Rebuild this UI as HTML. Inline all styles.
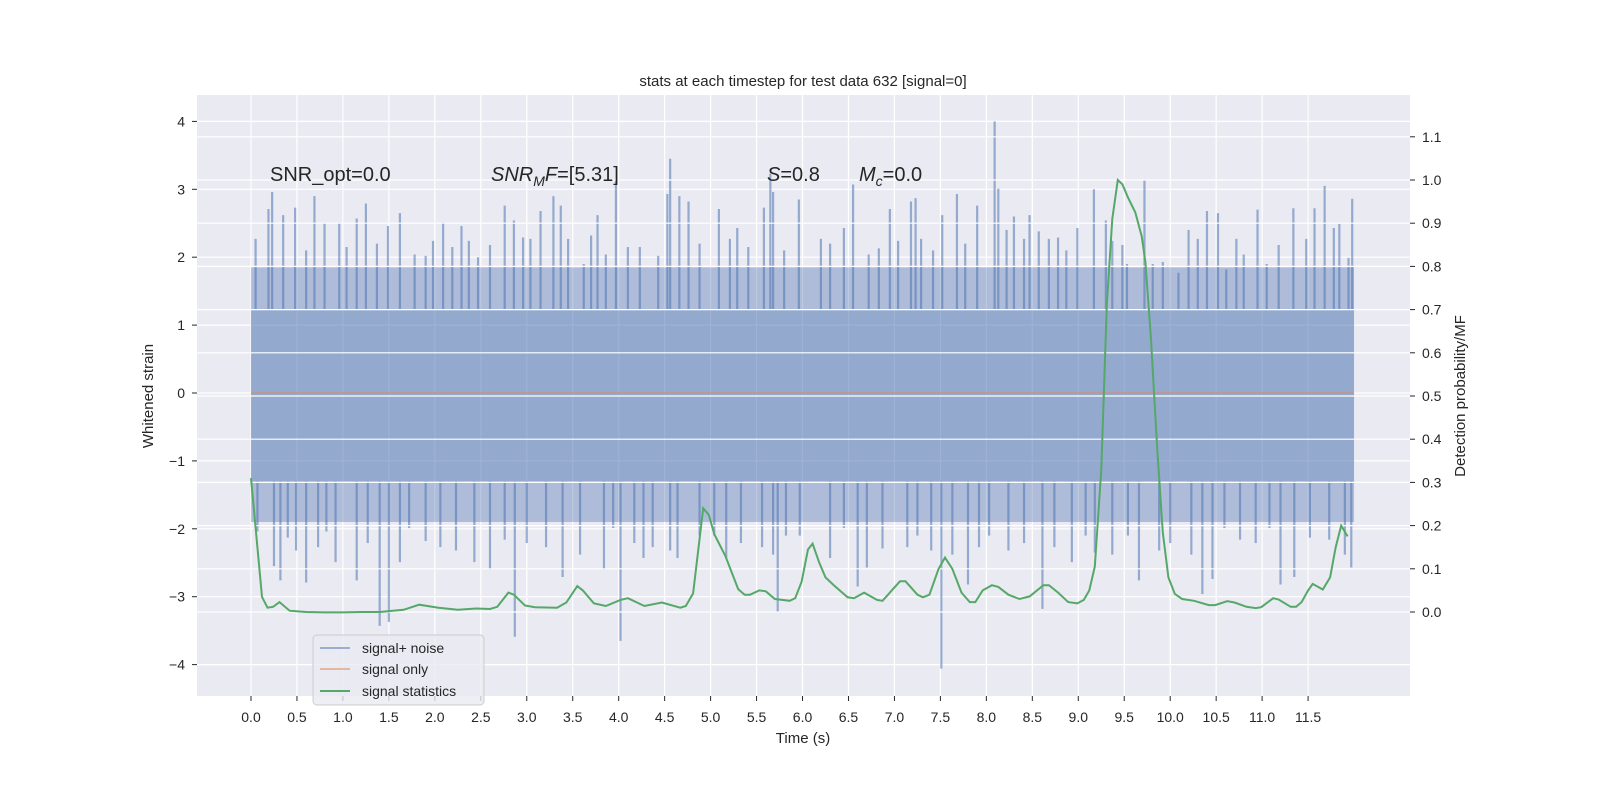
<!DOCTYPE html>
<html><head><meta charset="utf-8"><style>
html,body{margin:0;padding:0;background:#fff;}
svg text{font-family:"Liberation Sans","DejaVu Sans",sans-serif;fill:#262626;}
</style></head><body>
<svg id="chart" width="1600" height="800" viewBox="0 0 1600 800" xmlns="http://www.w3.org/2000/svg">
<rect x="0" y="0" width="1600" height="800" fill="#ffffff"/>
<rect x="197" y="95" width="1213" height="601" fill="#eaeaf2"/>
<g id="leftGrid"></g><g id="noise"></g><g id="rightGrid"></g><g id="stat"></g><g id="axes"></g>
<text x="803" y="86" font-size="15" text-anchor="middle">stats at each timestep for test data 632 [signal=0]</text>
<text x="803" y="743" font-size="15" text-anchor="middle">Time (s)</text>
<text transform="translate(153,396) rotate(-90)" font-size="15" text-anchor="middle">Whitened strain</text>
<text transform="translate(1465,396) rotate(-90)" font-size="15" text-anchor="middle">Detection probability/MF</text>
<text x="270" y="181" font-size="20">SNR_opt=0.0</text>
<text x="491" y="181" font-size="20"><tspan font-style="italic">SNR</tspan><tspan font-style="italic" font-size="14" dy="5">M</tspan><tspan font-style="italic" dy="-5">F</tspan>=[5.31]</text>
<text x="767" y="181" font-size="20"><tspan font-style="italic">S</tspan>=0.8</text>
<text x="859" y="181" font-size="20"><tspan font-style="italic">M</tspan><tspan font-style="italic" font-size="14" dy="5">c</tspan><tspan dy="-5">=0.0</tspan></text>
<g>
<rect x="313" y="635" width="171" height="70" rx="4" fill="#eaeaf2" fill-opacity="0.8" stroke="#cccccc"/>
<line x1="320" y1="648" x2="350" y2="648" stroke="#4c72b0" stroke-opacity="0.5" stroke-width="2"/>
<text x="362" y="653" font-size="14">signal+ noise</text>
<line x1="320" y1="669" x2="350" y2="669" stroke="#dd8452" stroke-opacity="0.5" stroke-width="2"/>
<text x="362" y="674" font-size="14">signal only</text>
<line x1="320" y1="691" x2="350" y2="691" stroke="#55a868" stroke-width="2"/>
<text x="362" y="696" font-size="14">signal statistics</text>
</g>
</svg>
<script>
const xTicks=[0,0.5,1,1.5,2,2.5,3,3.5,4,4.5,5,5.5,6,6.5,7,7.5,8,8.5,9,9.5,10,10.5,11,11.5];
const leftTicks=[-4,-3,-2,-1,0,1,2,3,4];
const rightTicks=[0,0.1,0.2,0.3,0.4,0.5,0.6,0.7,0.8,0.9,1.0,1.1];
const bandHi=1.22, bandLo=-1.3, fuzzHi=1.85, fuzzLo=-1.9, tEnd=12.0;
const upT=[0.05,0.19,0.23,0.35,0.48,0.6,0.69,0.8,0.96,1.04,1.15,1.25,1.37,1.49,1.62,1.78,1.9,1.98,2.09,2.19,2.29,2.37,2.47,2.6,2.76,2.86,2.96,3.04,3.15,3.29,3.37,3.45,3.62,3.7,3.77,3.86,3.97,4.1,4.23,4.43,4.53,4.56,4.66,4.76,4.88,5.09,5.21,5.29,5.41,5.58,5.65,5.68,5.8,5.96,6.2,6.3,6.45,6.55,6.72,6.83,6.95,7.04,7.18,7.23,7.29,7.42,7.52,7.68,7.77,7.9,8.09,8.13,8.22,8.3,8.41,8.47,8.57,8.68,8.78,8.87,8.99,9.17,9.3,9.37,9.48,9.53,9.72,9.81,9.92,10.09,10.2,10.3,10.4,10.52,10.61,10.72,10.8,10.95,11.05,11.18,11.34,11.48,11.57,11.68,11.78,11.84,11.94,11.98];
const upV=[2.27,2.71,2.96,2.62,2.73,2.1,2.9,2.5,2.5,2.15,2.57,2.79,2.2,2.46,2.65,2.04,2.02,2.24,2.51,2.15,2.46,2.24,2.0,2.18,2.76,2.54,2.29,2.27,2.68,2.9,2.76,2.27,1.9,2.32,2.62,2.04,3.12,2.15,2.15,2.02,2.93,3.45,2.9,2.82,2.2,2.71,2.27,2.43,2.15,2.73,3.23,2.96,2.1,2.85,2.27,2.2,2.43,3.07,2.04,2.13,2.71,2.24,2.82,2.87,2.27,2.1,2.62,2.93,2.2,2.76,4.0,3.01,2.4,2.6,2.27,2.62,2.38,2.27,2.29,2.1,2.43,3.0,2.54,2.24,2.18,1.9,3.14,1.9,1.93,1.77,2.4,2.27,2.68,2.65,1.82,2.27,2.04,2.7,1.9,2.18,2.72,2.27,2.72,3.05,2.43,2.49,1.99,2.86];
const loT=[0.07,0.25,0.32,0.4,0.49,0.6,0.73,0.82,0.92,1.15,1.27,1.4,1.5,1.62,1.72,1.9,2.06,2.23,2.43,2.6,2.76,2.87,3.0,3.21,3.39,3.58,3.84,3.94,4.02,4.17,4.27,4.37,4.56,4.64,4.88,5.04,5.17,5.33,5.56,5.68,5.73,5.82,5.97,6.3,6.45,6.6,6.7,6.87,7.14,7.25,7.4,7.51,7.63,7.8,7.92,8.03,8.24,8.41,8.61,8.74,8.93,9.08,9.18,9.37,9.54,9.66,9.88,10.0,10.23,10.35,10.46,10.59,10.76,10.93,11.08,11.2,11.35,11.52,11.73,11.9,11.97];
const loV=[-2.04,-2.55,-2.76,-2.13,-2.32,-2.79,-2.27,-2.04,-2.49,-2.76,-2.21,-3.43,-3.37,-2.49,-1.99,-2.18,-2.27,-2.32,-2.49,-2.6,-2.16,-3.59,-2.21,-2.27,-2.71,-2.38,-2.6,-1.99,-3.65,-2.21,-2.43,-2.27,-2.32,-2.43,-2.1,-2.1,-2.43,-2.21,-2.27,-2.38,-3.23,-2.1,-2.1,-2.43,-1.99,-2.85,-2.57,-2.29,-2.27,-2.1,-2.32,-4.06,-2.38,-2.82,-2.27,-2.1,-2.32,-2.21,-3.18,-2.27,-2.49,-2.1,-2.35,-2.38,-2.1,-2.76,-2.32,-2.21,-2.38,-2.96,-2.74,-1.99,-2.16,-2.21,-1.99,-2.82,-2.71,-2.13,-2.16,-2.38,-2.57];
const statT=[0,0.12,0.18,0.24,0.31,0.42,0.6,0.8,1.0,1.2,1.4,1.66,1.83,2.04,2.25,2.45,2.6,2.68,2.8,2.86,2.98,3.09,3.33,3.43,3.55,3.61,3.73,3.86,4.02,4.1,4.28,4.47,4.67,4.73,4.81,4.92,4.98,5.04,5.16,5.3,5.37,5.43,5.53,5.6,5.7,5.86,5.92,5.99,6.06,6.11,6.18,6.25,6.34,6.49,6.56,6.67,6.81,6.87,7.06,7.12,7.25,7.31,7.38,7.48,7.55,7.63,7.73,7.82,7.88,7.96,8.06,8.13,8.24,8.36,8.47,8.62,8.68,8.78,8.89,8.99,9.06,9.12,9.18,9.25,9.31,9.37,9.43,9.48,9.54,9.62,9.69,9.73,9.79,9.86,9.92,9.98,10.05,10.13,10.26,10.42,10.49,10.62,10.7,10.83,10.93,10.99,11.12,11.18,11.31,11.37,11.43,11.5,11.55,11.66,11.74,11.8,11.86,11.93];
const statV=[0.31,0.035,0.01,0.012,0.023,0.003,0.0,-0.001,-0.001,0.0,0.0,0.005,0.017,0.01,0.005,0.008,0.007,0.012,0.045,0.04,0.015,0.011,0.01,0.022,0.06,0.05,0.02,0.014,0.028,0.032,0.014,0.022,0.01,0.014,0.043,0.24,0.225,0.18,0.13,0.053,0.04,0.04,0.05,0.048,0.03,0.026,0.032,0.07,0.145,0.158,0.115,0.08,0.062,0.034,0.032,0.045,0.028,0.026,0.071,0.071,0.04,0.034,0.04,0.1,0.126,0.1,0.045,0.023,0.023,0.05,0.062,0.058,0.04,0.03,0.036,0.062,0.062,0.045,0.023,0.02,0.028,0.05,0.105,0.33,0.71,0.91,1.0,0.99,0.96,0.925,0.87,0.81,0.635,0.375,0.184,0.08,0.042,0.03,0.026,0.016,0.016,0.025,0.022,0.012,0.009,0.011,0.032,0.029,0.012,0.012,0.023,0.05,0.065,0.052,0.08,0.15,0.2,0.175];

const NS='http://www.w3.org/2000/svg';
const PX0=197,PX1=1410,PY0=95,PY1=696;
function xS(t){return 251+t*91.92;}
function yL(v){return 393-v*67.9;}
function yR(v){return 612-v*432;}
function mk(parent,tag,attrs){const e=document.createElementNS(NS,tag);for(const k in attrs)e.setAttribute(k,attrs[k]);document.getElementById(parent).appendChild(e);return e;}

// left grid + vertical grid
leftTicks.forEach(v=>{
  const l=mk('leftGrid','line',{x1:PX0,x2:PX1,y1:yL(v),y2:yL(v),stroke:'#ffffff','stroke-width':1.2});
  
  
});
xTicks.forEach(t=>{
  const l=mk('leftGrid','line',{x1:xS(t),x2:xS(t),y1:PY0,y2:PY1,stroke:'#ffffff','stroke-width':1.2});
  
  
});

// noise
const blue='#4c72b0';
const band=mk('noise','rect',{x:xS(0),y:yL(bandHi),width:xS(tEnd)-xS(0),height:yL(bandLo)-yL(bandHi),fill:blue,'fill-opacity':0.55});


const fz1=mk('noise','rect',{x:xS(0),y:yL(fuzzHi),width:xS(tEnd)-xS(0),height:yL(bandHi)-yL(fuzzHi),fill:blue,'fill-opacity':0.38});


const fz2=mk('noise','rect',{x:xS(0),y:yL(bandLo),width:xS(tEnd)-xS(0),height:yL(fuzzLo)-yL(bandLo),fill:blue,'fill-opacity':0.38});


upT.forEach((t,i)=>{
  const l=mk('noise','line',{x1:xS(t),x2:xS(t),y1:yL(bandHi),y2:yL(upV[i]),stroke:blue,'stroke-opacity':0.55,'stroke-width':2.2});
  
  
});
loT.forEach((t,i)=>{
  const l=mk('noise','line',{x1:xS(t),x2:xS(t),y1:yL(bandLo),y2:yL(loV[i]),stroke:blue,'stroke-opacity':0.55,'stroke-width':2.2});
  
  
});
const sig=mk('noise','line',{x1:xS(0),x2:xS(tEnd),y1:yL(0),y2:yL(0),stroke:'#dd8452','stroke-opacity':0.5,'stroke-width':2});



// right grid
rightTicks.forEach(v=>{
  const l=mk('rightGrid','line',{x1:PX0,x2:PX1,y1:yR(v),y2:yR(v),stroke:'#ffffff','stroke-width':1.2});
  
  
});

// stat line
const pts=statT.map((t,i)=>xS(t).toFixed(1)+','+yR(statV[i]).toFixed(1)).join(' ');
const sl=mk('stat','polyline',{points:pts,fill:'none',stroke:'#55a868','stroke-width':2});



// axes ticks and labels
xTicks.forEach(t=>{
  const tk=mk('axes','line',{x1:xS(t),x2:xS(t),y1:PY1,y2:PY1+5,stroke:'#262626','stroke-width':1});
  
  
  const tx=mk('axes','text',{x:xS(t),y:PY1+26,'font-size':14,'text-anchor':'middle'});
  tx.textContent=t.toFixed(1);
  
  
});
leftTicks.forEach(v=>{
  const tk=mk('axes','line',{x1:PX0-5,x2:PX0,y1:yL(v),y2:yL(v),stroke:'#262626','stroke-width':1});
  
  
  const tx=mk('axes','text',{x:PX0-12,y:yL(v)+5,'font-size':14,'text-anchor':'end'});
  tx.textContent=v<0?'\u2212'+Math.abs(v):String(v);
  
  
});
rightTicks.forEach(v=>{
  const tk=mk('axes','line',{x1:PX1,x2:PX1+5,y1:yR(v),y2:yR(v),stroke:'#262626','stroke-width':1});
  
  
  const tx=mk('axes','text',{x:PX1+12,y:yR(v)+5,'font-size':14,'text-anchor':'start'});
  tx.textContent=v.toFixed(1);
  
  
});
</script>
</body></html>
